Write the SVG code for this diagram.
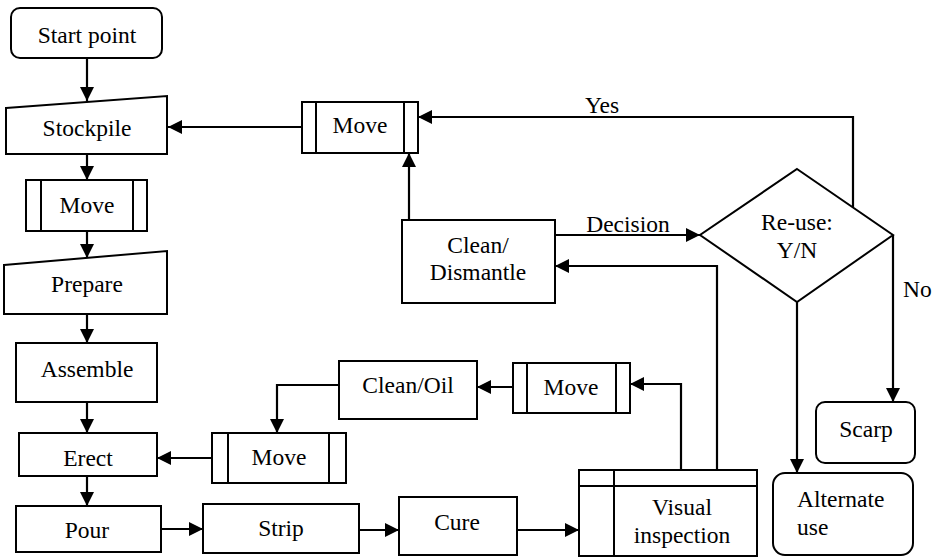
<svg xmlns="http://www.w3.org/2000/svg" width="937" height="559" viewBox="0 0 937 559">
<defs>
<marker id="ah" markerUnits="userSpaceOnUse" markerWidth="14" markerHeight="14" refX="14" refY="7" orient="auto">
<path d="M0,0 L14,7 L0,14 z" fill="#000"/>
</marker>
</defs>
<style>
.s{fill:#fff;stroke:#000;stroke-width:2}
.l{fill:none;stroke:#000;stroke-width:2}
text{font-family:'Liberation Serif','Times New Roman',serif;font-size:23.5px;fill:#000}
.m{text-anchor:middle}
#connectors path{fill:none;stroke:#000;stroke-width:2.2;marker-end:url(#ah)}
</style>
<rect width="937" height="559" fill="#fff"/>
<g id="connectors">
<path d="M87,58 V101"/>
<path d="M87,154 V180"/>
<path d="M87,231 V258"/>
<path d="M87,314 V343"/>
<path d="M87,402 V433"/>
<path d="M87,476 V506"/>
<path d="M161,529 H203"/>
<path d="M359,530 H399"/>
<path d="M517,530 H579"/>
<path d="M681,470 V384 H630"/>
<path d="M513,387 H477"/>
<path d="M339,385 H277 V433"/>
<path d="M212,458 H157"/>
<path d="M717,470 V266 H555"/>
<path d="M555,235 H700"/>
<path d="M409,220 V153"/>
<path d="M302,127 H168"/>
<path d="M853,207 V117 H418"/>
<path d="M893,235 V402"/>
<path d="M797,302 V473"/>
<text x="602" y="113" class="m">Yes</text>
<text x="628" y="232" class="m">Decision</text>
<text x="903" y="297">No</text>
</g>
<g id="start"><rect class="s" x="11" y="8" width="151" height="50" rx="9"/><text x="87" y="43" class="m">Start point</text></g>
<g id="stockpile"><polygon class="s" points="6,108 167,96 167,154 6,154"/><text x="87" y="136" class="m">Stockpile</text></g>
<g id="move1"><rect class="s" x="26" y="180" width="121" height="51"/><path class="l" d="M41,180 V231 M133,180 V231"/><text x="87" y="213" class="m">Move</text></g>
<g id="prepare"><polygon class="s" points="4,265 167,251 167,314 4,314"/><text x="87" y="292" class="m">Prepare</text></g>
<g id="assemble"><rect class="s" x="16" y="343" width="141" height="59"/><text x="87" y="377" class="m">Assemble</text></g>
<g id="erect"><rect class="s" x="19" y="433" width="138" height="43"/><text x="88" y="466" class="m">Erect</text></g>
<g id="pour"><rect class="s" x="16" y="506" width="145" height="46"/><text x="87" y="538" class="m">Pour</text></g>
<g id="strip"><rect class="s" x="203" y="504" width="156" height="49"/><text x="281" y="536" class="m">Strip</text></g>
<g id="cure"><rect class="s" x="399" y="497" width="118" height="58"/><text x="457" y="530" class="m">Cure</text></g>
<g id="visual"><rect class="s" x="579" y="470" width="178" height="86"/><path class="l" d="M579,486 H757 M614,470 V556"/><text x="682" y="515" class="m">Visual</text><text x="682" y="543" class="m">inspection</text></g>
<g id="move2"><rect class="s" x="212" y="433" width="134" height="50"/><path class="l" d="M228,433 V483 M329,433 V483"/><text x="279" y="465" class="m">Move</text></g>
<g id="cleanoil"><rect class="s" x="339" y="361" width="138" height="58"/><text x="408" y="393" class="m">Clean/Oil</text></g>
<g id="move3"><rect class="s" x="513" y="363" width="117" height="50"/><path class="l" d="M527,363 V413 M616,363 V413"/><text x="571" y="395" class="m">Move</text></g>
<g id="cleandismantle"><rect class="s" x="402" y="220" width="153" height="83"/><text x="478" y="253" class="m">Clean/</text><text x="478" y="280" class="m">Dismantle</text></g>
<g id="movetop"><rect class="s" x="302" y="102" width="116" height="51"/><path class="l" d="M316,102 V153 M404,102 V153"/><text x="360" y="133" class="m">Move</text></g>
<g id="reuse"><polygon class="s" points="797,169 893,235 797,302 700,235"/><text x="797" y="230" class="m">Re-use:</text><text x="797" y="258" class="m">Y/N</text></g>
<g id="scarp"><rect class="s" x="816" y="402" width="99" height="61" rx="9"/><text x="866" y="437" class="m">Scarp</text></g>
<g id="alternate"><rect class="s" x="773" y="473" width="140" height="82" rx="12"/><text x="797" y="507">Alternate</text><text x="797" y="535">use</text></g>
</svg>
